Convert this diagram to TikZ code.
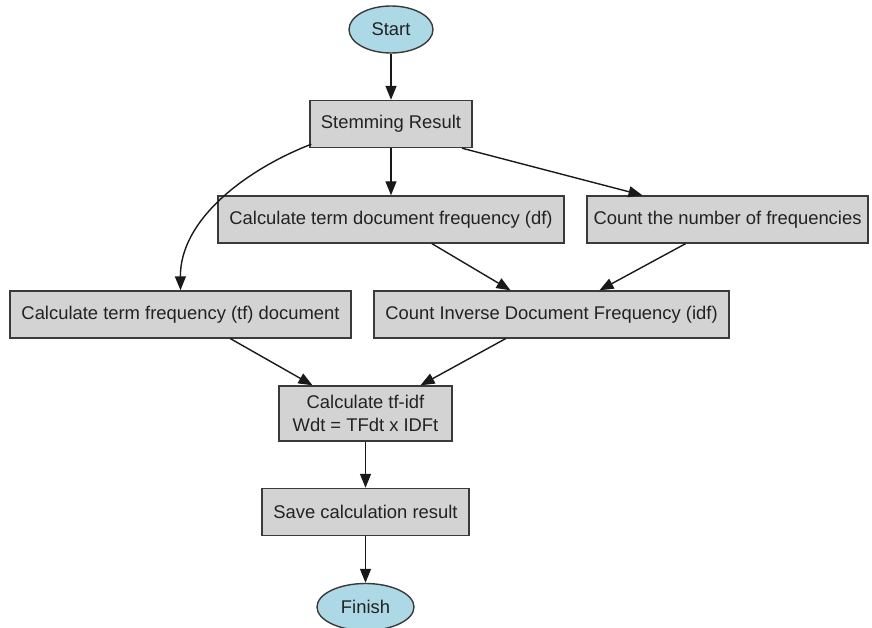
\documentclass[tikz,border=0pt]{standalone}
\usepackage{fontspec}
\setmainfont{Liberation Sans}
\usetikzlibrary{shapes.geometric,arrows.meta,calc}
\definecolor{boxfill}{HTML}{D3D3D3}
\definecolor{termfill}{HTML}{ADD8E6}
\definecolor{edgeline}{HTML}{3A3A3A}
\definecolor{inktext}{HTML}{222222}
\begin{document}
\begin{tikzpicture}[x=1pt,y=-1pt,
  every node/.style={text=inktext, font=\fontsize{18.4}{23}\selectfont},
  stepbox/.style={rectangle, draw=edgeline, fill=boxfill, line width=1.4pt,
    minimum height=47pt, inner sep=0pt, align=center},
  terminal/.style={ellipse, draw=edgeline, fill=termfill, line width=1.4pt,
    minimum height=47pt, inner sep=0pt},
  flow/.style={draw=black!90, line width=1.4pt,
    -{Triangle[length=14pt,width=11pt]}}]
\useasboundingbox (0,0) rectangle (872,628);

% nodes
\node[terminal, minimum width=84pt] (start) at (391,29.5) {Start};
\node[stepbox, minimum width=162pt] (stem) at (391,124) {Stemming Result};
\node[stepbox, minimum width=346pt] (df) at (391,219.5) {Calculate term document frequency (df)};
\node[stepbox, minimum width=281pt] (cnt) at (727.5,219.5) {Count the number of frequencies};
\node[stepbox, minimum width=341pt] (tf) at (180.5,314.5) {Calculate term frequency (tf) document};
\node[stepbox, minimum width=355pt] (idf) at (551.5,314.5) {Count Inverse Document Frequency (idf)};
\node[stepbox, minimum width=173pt, minimum height=55pt] (tfidf) at (365.5,413.5) {Calculate tf-idf\\Wdt = TFdt x IDFt};
\node[stepbox, minimum width=207pt] (save) at (365.5,512) {Save calculation result};
\node[terminal, minimum width=97pt] (finish) at (365.5,607) {Finish};

% connectors
\draw[flow] (start) -- (stem);
\draw[flow] (stem) -- (df);
\draw[flow] ($(stem.south)+(71,0)$) -- ($(cnt.north)+(-85,0)$);
\draw[flow] ($(stem.south west)+(2,-4)$) .. controls (245,170) and (180,220) .. (tf.north);
\draw[flow] ($(df.south)+(41,0)$) -- ($(idf.north)+(-41,0)$);
\draw[flow] ($(cnt.south)+(-42,0)$) -- ($(idf.north)+(48,0)$);
\draw[flow] ($(tf.south)+(50,0)$) -- ($(tfidf.north)+(-53,0)$);
\draw[flow] ($(idf.south)+(-46,0)$) -- ($(tfidf.north)+(55,0)$);
\draw[flow] (tfidf) -- (save);
\draw[flow] (save) -- (finish);
\end{tikzpicture}
\end{document}
